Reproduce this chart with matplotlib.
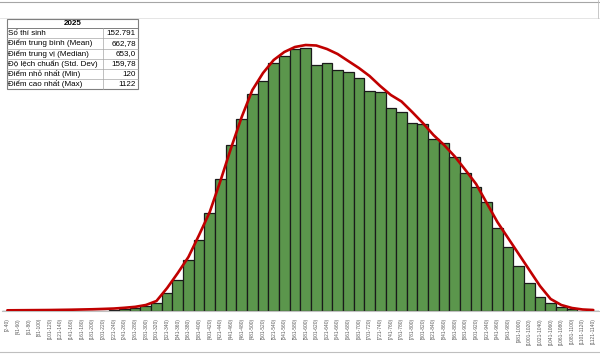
import matplotlib
matplotlib.use("Agg")
import matplotlib.pyplot as plt
from matplotlib.lines import Line2D
from matplotlib.patches import Rectangle

# ---------------- data ----------------
bin_lows = [2] + [41 + 20 * k for k in range(55)]
bin_highs = [40] + [60 + 20 * k for k in range(55)]
bin_labels = [f"[{lo}-{hi})" for lo, hi in zip(bin_lows, bin_highs)]

counts = [0, 0, 0, 0, 0, 1, 2, 4, 7, 13,
          26, 53, 79, 132, 203, 483, 818, 1346, 1874, 2595,
          3485, 4382, 5061, 5721, 6072, 6539, 6732, 6917, 6935, 6494,
          6539, 6362, 6302, 6143, 5808, 5774, 5351, 5262, 4955, 4937,
          4541, 4443, 4074, 3635, 3266, 2870, 2183, 1698, 1188, 731,
          378, 211, 106, 53, 13, 3]

fit_curve = [18, 20, 22, 24, 26, 30, 34, 40, 46, 55,
             65, 85, 110, 158, 264, 607, 1003, 1426, 2006, 2614,
             3432, 4303, 5122, 5834, 6283, 6626, 6838, 6970, 7022, 7009,
             6917, 6785, 6600, 6415, 6204, 5940, 5702, 5531, 5254, 4963,
             4646, 4382, 4079, 3722, 3353, 2851, 2350, 1927, 1505, 1082,
             660, 317, 158, 79, 40, 26]

table_title = "2025"
stat_names = ["Số thí sinh", "Điểm trung bình (Mean)", "Điểm trung vị (Median)",
              "Độ lệch chuẩn (Std. Dev)", "Điểm nhỏ nhất (Min)", "Điểm cao nhất (Max)"]
stat_values = ["152.791", "662,78", "653,0", "159,78", "120", "1122"]

# ---------------- figure ----------------
plt.rcParams['font.family'] = ['Liberation Sans', 'DejaVu Sans']
W, H = 600, 354
fig = plt.figure(figsize=(W / 100, H / 100), dpi=100)

base_px, top_px = 311, 18
ax = fig.add_axes([2 / W, 1 - base_px / H, 596.6 / W, (base_px - top_px) / H])
x = list(range(len(counts)))
ax.bar(x, counts, width=1.0, color="#5b964c", edgecolor="#1a1a1a", linewidth=0.9, zorder=2)
ax.plot(x, fit_curve, color="#c00000", linewidth=1.9, zorder=3, solid_capstyle="round")
ax.set_xlim(-0.5, len(counts) - 0.5)
ax.set_ylim(0, (base_px - top_px) * 26.4)
ax.set_yticks([])
ax.set_xticks(x)
ax.set_xticklabels(bin_labels, rotation=90, fontsize=3.5, color="#595959")
ax.tick_params(axis="x", length=0, pad=5)
for s in ["top", "left", "right"]:
    ax.spines[s].set_visible(False)
ax.spines["bottom"].set_color("#bfbfbf")
ax.spines["bottom"].set_linewidth(0.8)

# frame lines
fig.add_artist(Line2D([0, 1], [1 - 2 / H, 1 - 2 / H], color="#a6a6a6", linewidth=0.8))
fig.add_artist(Line2D([0, 1], [1 - 18 / H, 1 - 18 / H], color="#e0e0e0", linewidth=0.6))
fig.add_artist(Line2D([0, 1], [1 - 352 / H, 1 - 352 / H], color="#bfbfbf", linewidth=0.8))
fig.add_artist(Line2D([597.5 / W, 597.5 / W], [1 - 18 / H, 1], color="#bfbfbf", linewidth=0.6))

# ---------------- stats table ----------------
def fx(px):
    return px / W

def fy(py):
    return 1 - py / H

tl, tr, tc = 7, 137.5, 103.3
t_top, h_bot, t_bot = 19, 28.3, 89.3
row_h = (t_bot - h_bot) / len(stat_names)
fig.add_artist(Rectangle((fx(tl), fy(t_bot)), fx(tr) - fx(tl), fy(t_top) - fy(t_bot),
                         facecolor="white", edgecolor="#7f7f7f", linewidth=0.8, zorder=5))
fig.add_artist(Line2D([fx(tl), fx(tr)], [fy(h_bot), fy(h_bot)], color="#7f7f7f", linewidth=0.7, zorder=6))
for r in range(1, len(stat_names)):
    yy = fy(h_bot + r * row_h)
    fig.add_artist(Line2D([fx(tl), fx(tr)], [yy, yy], color="#a6a6a6", linewidth=0.5, zorder=6))
fig.add_artist(Line2D([fx(tc), fx(tc)], [fy(h_bot), fy(t_bot)], color="#a6a6a6", linewidth=0.5, zorder=6))
fig.text(fx((tl + tr) / 2), fy((t_top + h_bot) / 2), table_title, ha="center", va="center",
         fontsize=5.8, fontweight="bold", color="black", zorder=7)
for r, (nm, vl) in enumerate(zip(stat_names, stat_values)):
    yc = fy(h_bot + (r + 0.5) * row_h)
    fig.text(fx(tl + 1.5), yc, nm, ha="left", va="center", fontsize=5.8, color="black", zorder=7)
    fig.text(fx(tr - 1.5), yc, vl, ha="right", va="center", fontsize=5.8, color="black", zorder=7)

fig.savefig("out.png", dpi=100)
